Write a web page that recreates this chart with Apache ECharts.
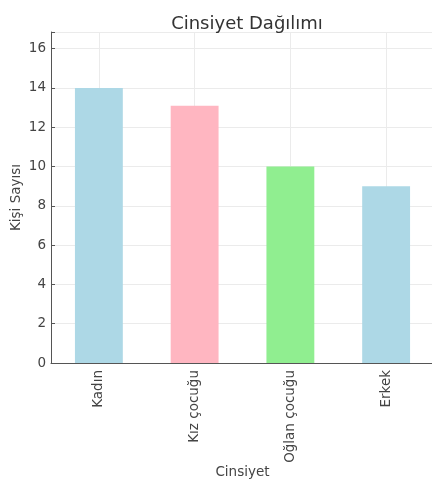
<!DOCTYPE html>
<html>
<head>
<meta charset="utf-8">
<script src="https://cdn.jsdelivr.net/npm/echarts@6/dist/echarts.min.js"></script>
<style>html,body{margin:0;padding:0;background:#fff}#c{width:432px;height:479px}</style>
</head>
<body>
<div id="c"></div>
<script>
const categories = ["Kadın", "Kız çocuğu", "Oğlan çocuğu", "Erkek"];
const counts = [14, 13.1, 10, 9];
const barColors = ["#add8e6", "#ffb6c1", "#90ee90", "#add8e6"];
const yTicks = [0, 2, 4, 6, 8, 10, 12, 14, 16];

const chart = echarts.init(document.getElementById('c'), null, {renderer: 'canvas'});
const font = 'DejaVu Sans';
chart.setOption({
  animation: false,
  backgroundColor: '#fff',
  title: {
    text: 'Cinsiyet Dağılımı',
    left: 242, top: 10, textAlign: 'center',
    textStyle: {fontFamily: font, fontSize: 18, fontWeight: 'normal', color: '#333'}
  },
  grid: {left: 51, right: -2, top: 32, bottom: 116, containLabel: false, outerBoundsMode: 'none'},
  xAxis: {
    type: 'category',
    data: categories,
    name: 'Cinsiyet',
    nameLocation: 'middle',
    nameGap: 102,
    nameMoveOverlap: false,
    nameTextStyle: {fontFamily: font, fontSize: 13.5, color: '#444'},
    axisLine: {show: true, lineStyle: {color: '#555', width: 1}},
    axisTick: {show: true, alignWithLabel: true, inside: true, length: 3, lineStyle: {color: '#555'}},
    axisLabel: {rotate: 90, margin: 7, fontFamily: font, fontSize: 13.5, color: '#444'},
    splitLine: {show: true, alignWithLabel: true, lineStyle: {color: '#ebebeb', width: 1}}
  },
  yAxis: {
    type: 'value',
    min: 0, max: 16.85, interval: 2,
    name: 'Kişi Sayısı',
    nameLocation: 'middle',
    nameGap: 28,
    nameMoveOverlap: false,
    nameTextStyle: {fontFamily: font, fontSize: 13.5, color: '#444'},
    axisLine: {show: true, lineStyle: {color: '#555', width: 1}},
    axisTick: {show: true, inside: true, length: 4, lineStyle: {color: '#555'}},
    axisLabel: {
      fontFamily: font, fontSize: 13.5, color: '#444', margin: 5,
      formatter: v => yTicks.includes(v) ? String(v) : ''
    },
    splitLine: {show: true, lineStyle: {color: '#ebebeb', width: 1}}
  },
  series: [{
    type: 'bar',
    barWidth: '50%',
    data: counts.map((v, i) => ({value: v, itemStyle: {color: barColors[i]}}))
  }]
});
</script>
</body>
</html>
